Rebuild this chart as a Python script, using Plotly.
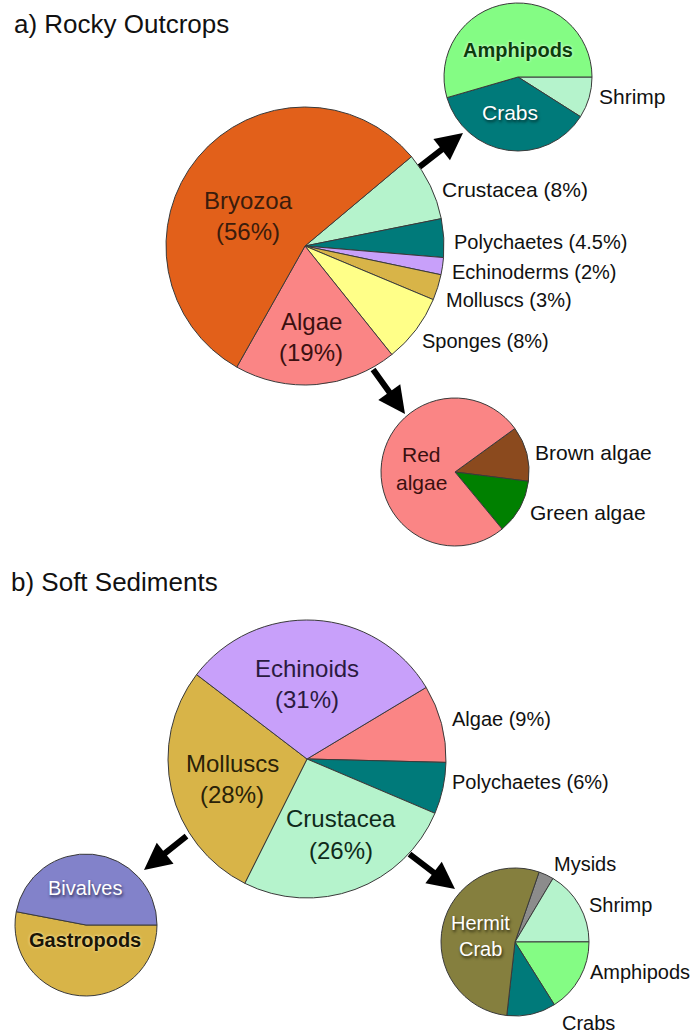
import plotly.graph_objects as go

W, H = 693, 1036

# ---------------- data ----------------
rocky_labels = ["Crustacea", "Polychaetes", "Echinoderms", "Molluscs", "Sponges", "Algae", "Bryozoa"]
rocky_values = [8, 4.5, 2, 3, 8, 19, 56]

rocky_crust_labels = ["Shrimp", "Crabs", "Amphipods"]
rocky_crust_values = [9, 36.5, 54.5]

rocky_algae_labels = ["Brown algae", "Green algae", "Red algae"]
rocky_algae_values = [12, 12, 76]

soft_labels = ["Algae", "Polychaetes", "Crustacea", "Molluscs", "Echinoids"]
soft_values = [9, 6, 26, 28, 31]

soft_moll_labels = ["Gastropods", "Bivalves"]
soft_moll_values = [53, 47]

soft_crust_labels = ["Mysids", "Shrimp", "Amphipods", "Crabs", "Hermit Crab"]
soft_crust_values = [3.3, 16.4, 16.1, 10.7, 53.5]

# ---------------- styles ----------------
rocky_colors = ["#B5F3CC", "#007A7A", "#C8A0FA", "#D8B448", "#FFFF88", "#FA8585", "#E2601A"]
rocky_crust_colors = ["#B5F3CC", "#007A7A", "#84FC84"]
rocky_algae_colors = ["#8B4A1E", "#008000", "#FA8585"]
soft_colors = ["#FA8585", "#007A7A", "#B5F3CC", "#D8B448", "#C8A0FA"]
soft_moll_colors = ["#D8B448", "#8282CA"]
soft_crust_colors = ["#8C8C8C", "#B5F3CC", "#84FC84", "#007A7A", "#857F3E"]


def dom(cx, cy, r):
    return dict(x=[(cx - r) / W, (cx + r) / W], y=[1 - (cy + r) / H, 1 - (cy - r) / H])


def pie(labels, values, colors, cx, cy, r, rotation, direction="clockwise"):
    return go.Pie(
        labels=labels, values=values, sort=False, direction=direction, rotation=rotation,
        marker=dict(colors=colors, line=dict(color="#3a3a3a", width=1)),
        textinfo="none", hoverinfo="label+value", showlegend=False,
        domain=dom(cx, cy, r),
    )


fig = go.Figure()
fig.add_trace(pie(rocky_labels, rocky_values, rocky_colors, 305, 246, 139, 50))
fig.add_trace(pie(rocky_crust_labels, rocky_crust_values, rocky_crust_colors, 518, 77, 74, 90))
fig.add_trace(pie(rocky_algae_labels, rocky_algae_values, rocky_algae_colors, 455, 472, 74, 54))
fig.add_trace(pie(soft_labels, soft_values, soft_colors, 307, 759, 139, 59))
fig.add_trace(pie(soft_moll_labels, soft_moll_values, soft_moll_colors, 86, 925, 71, 90))
fig.add_trace(pie(soft_crust_labels, soft_crust_values, soft_crust_colors, 515, 942, 74, 19))

FONT = "Liberation Sans, Arial, sans-serif"
ann = []


def txt(x, y, text, size=20, color="#111111", anchor="left", bold=False, shadow=None):
    f = dict(family=FONT, size=size, color=color)
    if bold:
        f["weight"] = "bold"
    if shadow:
        f["shadow"] = shadow
    ann.append(dict(x=x / W, y=1 - y / H, xref="paper", yref="paper", text=text, showarrow=False,
                    xanchor=anchor, yanchor="middle", font=f))


def arrow(x0, y0, x1, y1):
    ann.append(dict(x=x1 / W, y=1 - y1 / H, xref="paper", yref="paper", text="",
                    showarrow=True, ax=x0 - x1, ay=y0 - y1, arrowhead=2, arrowsize=0.9,
                    arrowwidth=6, arrowcolor="#000000", standoff=0))


# titles
txt(12, 24, "a) Rocky Outcrops", size=26)
txt(9, 582, "b) Soft Sediments", size=26)

# rocky main pie
txt(248, 200, "Bryozoa", size=24, color="#3b1c0c", anchor="center")
txt(248, 231, "(56%)", size=24, color="#3b1c0c", anchor="center")
txt(311, 321, "Algae", size=24, color="#3b1010", anchor="center")
txt(311, 352, "(19%)", size=24, color="#3b1010", anchor="center")
txt(440, 189, f"{rocky_labels[0]} ({rocky_values[0]:g}%)", size=21)
txt(452, 242, f"{rocky_labels[1]} ({rocky_values[1]:g}%)")
txt(450, 272, f"{rocky_labels[2]} ({rocky_values[2]:g}%)")
txt(444, 300, f"{rocky_labels[3]} ({rocky_values[3]:g}%)")
txt(420, 341, f"{rocky_labels[4]} ({rocky_values[4]:g}%)")

# rocky crustacea sub-pie
txt(518, 50, "Amphipods", size=20, color="#0b3d0b", anchor="center", bold=True,
    shadow="0px 0px 3px #ffffff")
txt(510, 112, "Crabs", size=21, color="#ffffff", anchor="center", shadow="1px 2px 3px #00302f")
txt(597, 97, "Shrimp", size=21)

# rocky algae sub-pie
txt(421, 454, "Red", size=21, color="#3b1010", anchor="center")
txt(421, 482, "algae", size=21, color="#3b1010", anchor="center")
txt(533, 452, "Brown algae", size=21)
txt(528, 512, "Green algae", size=21)

# soft main pie
txt(307, 668, "Echinoids", size=24, color="#2b1a40", anchor="center")
txt(307, 699, "(31%)", size=24, color="#2b1a40", anchor="center")
txt(232, 763, "Molluscs", size=24, color="#2a2208", anchor="center")
txt(232, 794, "(28%)", size=24, color="#2a2208", anchor="center")
txt(341, 818, "Crustacea", size=24, color="#0f2a1a", anchor="center")
txt(341, 850, "(26%)", size=24, color="#0f2a1a", anchor="center")
txt(450, 719, f"{soft_labels[0]} ({soft_values[0]:g}%)")
txt(450, 782, f"{soft_labels[1]} ({soft_values[1]:g}%)")

# soft molluscs sub-pie
txt(85, 888, "Bivalves", size=20, color="#ffffff", anchor="center", shadow="1px 2px 3px #30305a")
txt(85, 940, "Gastropods", size=20, color="#1a1505", anchor="center", bold=True,
    shadow="0px 0px 3px #fff2c0")

# soft crustacea sub-pie
txt(480, 923, "Hermit", size=20, color="#ffffff", anchor="center", shadow="1px 2px 3px #2a2810")
txt(480, 949, "Crab", size=20, color="#ffffff", anchor="center", shadow="1px 2px 3px #2a2810")
txt(552, 864, "Mysids", size=20)
txt(587, 905, "Shrimp", size=20)
txt(588, 972, "Amphipods", size=20)
txt(560, 1023, "Crabs", size=20)

# arrows
arrow(418, 168, 463, 133)
arrow(372, 368, 405, 414)
arrow(188, 835, 144, 870)
arrow(408, 853, 455, 889)

fig.update_layout(
    width=W, height=H, margin=dict(l=0, r=0, t=0, b=0),
    paper_bgcolor="#ffffff", plot_bgcolor="#ffffff",
    annotations=ann, showlegend=False,
)

fig.write_html("out.html", config={"displayModeBar": False},
               post_script="document.body.style.margin='0';document.body.style.overflow='hidden';")
